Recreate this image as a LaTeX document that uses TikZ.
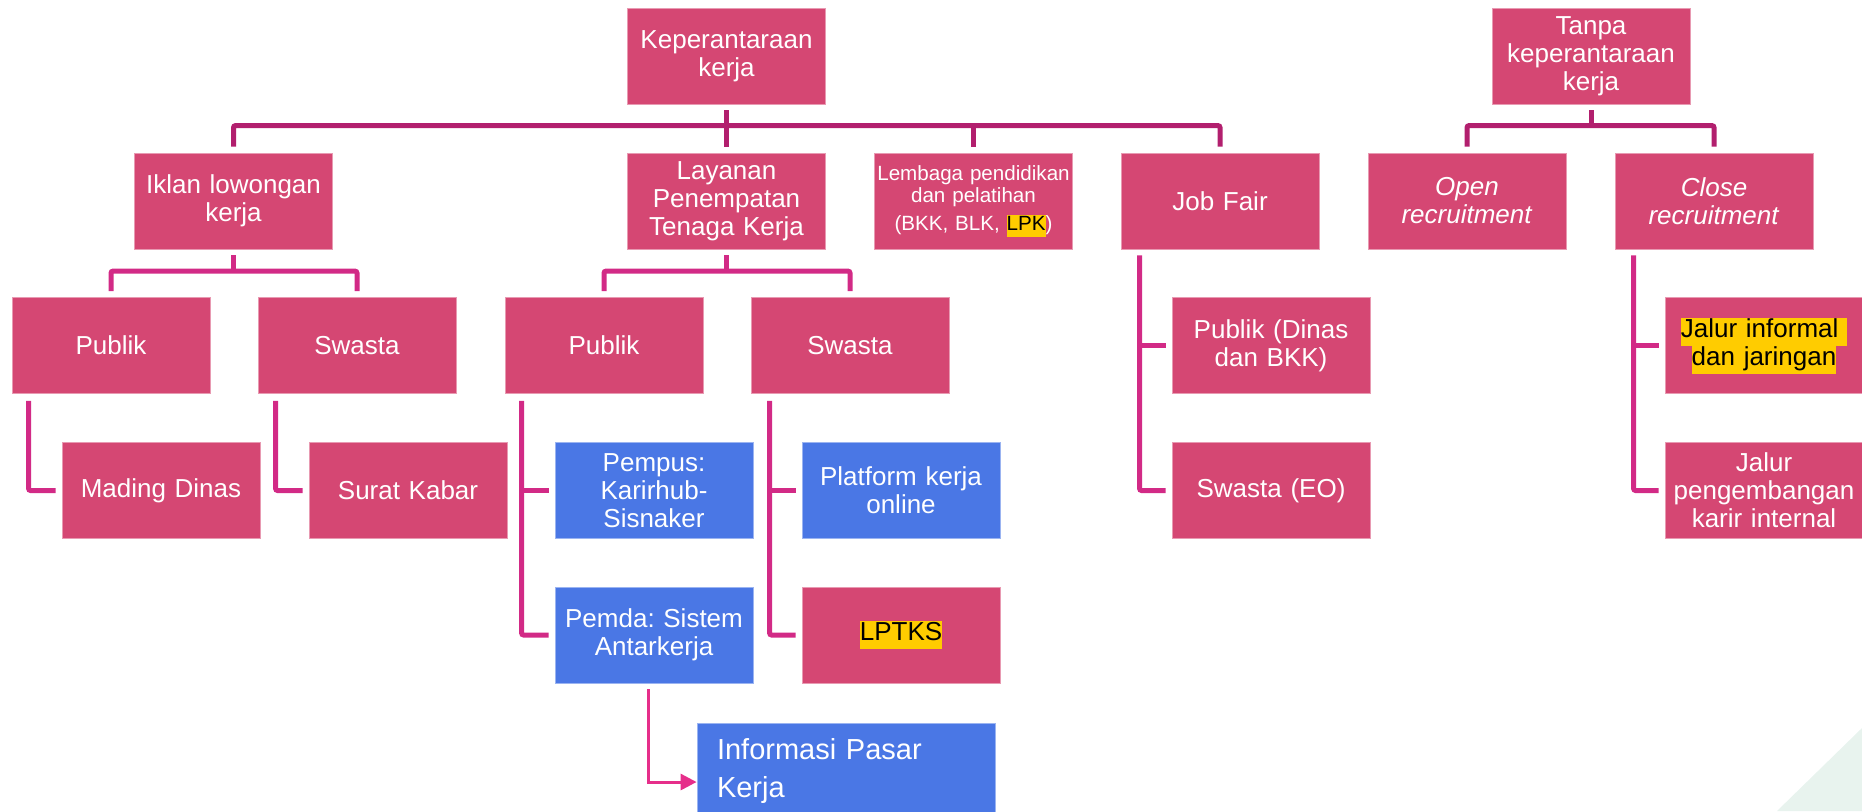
\documentclass[tikz,border=0pt]{standalone}
\usepackage{fontspec}
\setmainfont{Liberation Sans}
\usetikzlibrary{arrows.meta}
\definecolor{boxpink}{RGB}{213,71,115}
\definecolor{boxblue}{RGB}{74,119,229}
\definecolor{topline}{RGB}{178,31,110}
\definecolor{subline}{RGB}{210,42,134}
\definecolor{arrowpink}{RGB}{230,46,138}
\definecolor{hlyellow}{RGB}{255,204,0}
\definecolor{cornergreen}{RGB}{232,243,238}
\newcommand{\hlt}[1]{{\setlength{\fboxsep}{0pt}\colorbox{hlyellow}{\strut\color{black}#1}}}
\frenchspacing
\begin{document}
\begin{tikzpicture}[x=0.5pt,y=-0.5pt,
  box/.style={rectangle, fill=boxpink, draw=boxpink!55!white, line width=0.4pt,
    minimum width=99pt, minimum height=48pt, inner sep=0pt, text width=95pt,
    align=center, text=white, font=\fontsize{13}{14}\selectfont},
  bluebox/.style={box, fill=boxblue, draw=boxblue!55!white},
  tconn/.style={draw=topline, line width=2.5pt, rounded corners=1pt},
  sconn/.style={draw=subline, line width=2.5pt, rounded corners=1pt},
  arr/.style={draw=arrowpink, line width=1.5pt, -{Triangle[length=8pt,width=8pt]}}
]
\useasboundingbox (0,0) rectangle (1862,811);
\fill[cornergreen] (1862,728) -- (1777,811) -- (1862,811) -- cycle;

% top level
\node[box] (kep) at (726.5,56) {Keperantaraan\\kerja};
\node[box] (tanpa) at (1591,56) {Tanpa\\keperantaraan\\kerja};

% row 1
\node[box] (iklan) at (233.5,201) {Iklan lowongan\\kerja};
\node[box] (layanan) at (726.5,201) {Layanan\\Penempatan\\Tenaga Kerja};
\node[box, text width=98pt, font=\fontsize{10.3}{11}\selectfont] (lembaga) at (973.5,201) {Lembaga pendidikan\\dan pelatihan\\[3pt](BKK, BLK, \hlt{LPK})};
\node[box] (jobfair) at (1220,201) {Job Fair};
\node[box] (open) at (1467,201) {\textit{Open}\\\textit{recruitment}};
\node[box] (close) at (1714,201) {\textit{Close}\\\textit{recruitment}};

% row 2
\node[box] (pubA) at (111,345.5) {Publik};
\node[box] (swaA) at (357,345.5) {Swasta};
\node[box] (pubB) at (604,345.5) {Publik};
\node[box] (swaB) at (850,345.5) {Swasta};
\node[box] (pubjf) at (1271,345.5) {Publik (Dinas\\dan BKK)};
\node[box] (jalinf) at (1764,345.5) {\hlt{Jalur informal }\\\hlt{dan jaringan}};

% row 3
\node[box] (mading) at (161,490.5) {Mading Dinas};
\node[box] (surat) at (408,490.5) {Surat Kabar};
\node[bluebox] (pempus) at (654,490.5) {Pempus:\\Karirhub-\\Sisnaker};
\node[bluebox] (platform) at (901,490.5) {Platform kerja\\online};
\node[box] (swaeo) at (1271,490.5) {Swasta (EO)};
\node[box] (jalpeng) at (1764,490.5) {Jalur\\pengembangan\\karir internal};

% row 4
\node[bluebox] (pemda) at (654,635) {Pemda: Sistem\\Antarkerja};
\node[box] (lptks) at (901,635) {\hlt{LPTKS}};

% row 5
\node[bluebox, minimum width=149pt, text width=129pt, align=left,
  font=\fontsize{14.5}{19}\selectfont] (info) at (846,771) {Informasi Pasar\\Kerja};

% top connectors
\draw[tconn] ([yshift=-3pt]kep.south) -- ++(0,16);
\draw[tconn] ([yshift=3pt]iklan.north) -- ++(0,-21) -| ([yshift=3pt]jobfair.north);
\draw[tconn] ([yshift=3pt]layanan.north) -- ++(0,-21);
\draw[tconn] ([yshift=3pt]lembaga.north) -- ++(0,-21);
\draw[tconn] ([yshift=-3pt]tanpa.south) -- ++(0,16);
\draw[tconn] ([yshift=3pt]open.north) -- ++(0,-21) -| ([yshift=3pt]close.north);

% second level buses
\draw[sconn] ([yshift=-3pt]iklan.south) -- ++(0,17);
\draw[sconn] ([yshift=3pt]pubA.north) -- ++(0,-20) -| ([yshift=3pt]swaA.north);
\draw[sconn] ([yshift=-3pt]layanan.south) -- ++(0,17);
\draw[sconn] ([yshift=3pt]pubB.north) -- ++(0,-20) -| ([yshift=3pt]swaB.north);

% side connectors
\draw[sconn] ([shift={(17,7)}]pubA.south west) |- ([xshift=-3pt]mading.west);
\draw[sconn] ([shift={(18,7)}]swaA.south west) |- ([xshift=-3pt]surat.west);

\path ([shift={(17,7)}]pubB.south west) coordinate (pbv);
\draw[sconn] (pbv) |- ([xshift=-3pt]pemda.west);
\draw[sconn] (pbv |- pempus.west) -- ([xshift=-3pt]pempus.west);

\path ([shift={(19,7)}]swaB.south west) coordinate (sbv);
\draw[sconn] (sbv) |- ([xshift=-3pt]lptks.west);
\draw[sconn] (sbv |- platform.west) -- ([xshift=-3pt]platform.west);

\path ([shift={(19,6)}]jobfair.south west) coordinate (jfv);
\draw[sconn] (jfv) |- ([xshift=-3pt]swaeo.west);
\draw[sconn] (jfv |- pubjf.west) -- ([xshift=-3pt]pubjf.west);

\path ([shift={(19,6)}]close.south west) coordinate (clv);
\draw[sconn] (clv) |- ([xshift=-3pt]jalpeng.west);
\draw[sconn] (clv |- jalinf.west) -- ([xshift=-3pt]jalinf.west);

% arrow
\draw[arr] ([shift={(-6,6)}]pemda.south) |- ([yshift=-5.5pt]info.west);
\end{tikzpicture}
\end{document}
